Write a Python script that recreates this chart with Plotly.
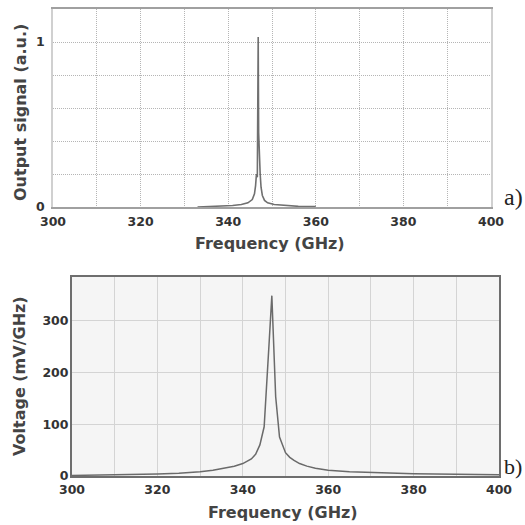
import plotly.graph_objects as go

# ---- data ----
freq_a = [333, 336, 339, 341, 343, 344.5, 345.5, 346.0, 346.25, 346.45, 346.65, 346.85,
          346.95, 347.1, 347.3, 347.5, 347.8, 348.3, 349, 350.5, 353, 356, 360]
signal_a = [0.0, 0.003, 0.006, 0.009, 0.015, 0.025, 0.045, 0.08, 0.13, 0.2, 0.18, 1.03,
            0.45, 0.24, 0.2, 0.12, 0.07, 0.04, 0.025, 0.015, 0.008, 0.004, 0.002]

freq_b = [300, 305, 310, 315, 320, 325, 330, 333, 336, 338, 340, 342, 343, 344, 345,
          345.6, 346.2, 346.8, 347.3, 347.7, 348.6, 350, 351, 352, 353.3, 355, 357,
          360, 365, 370, 375, 380, 385, 390, 395, 400]
voltage_b = [1, 1.5, 2, 3, 4, 5.5, 8, 11, 15, 19, 24, 33, 42, 60, 95,
             170, 262, 348, 250, 153, 75, 45, 36, 30, 24, 19, 15,
             11, 8, 6.5, 5.5, 4.5, 4, 3.5, 3, 2.5]

x_ticks = list(range(300, 401, 10))
x_labels = [str(v) if v % 20 == 0 else "" for v in x_ticks]
ya_ticks = [0, 0.2, 0.4, 0.6, 0.8, 1.0, 1.2]
ya_labels = ["0", "", "", "", "", "1", ""]
yb_ticks = [0, 100, 200, 300]

W = 525.0
def fx(px): return px / W
def fy(py): return 1 - py / W

tickfont = dict(family="DejaVu Sans", size=12.5, color="#333333", weight="bold")
titlefont = dict(family="DejaVu Sans", size=16, color="#444444", weight="bold")

fig = go.Figure()
fig.add_trace(go.Scatter(x=freq_a, y=signal_a, mode="lines",
                         line=dict(color="#707070", width=1.6), xaxis="x", yaxis="y",
                         showlegend=False))
fig.add_trace(go.Scatter(x=freq_b, y=voltage_b, mode="lines",
                         line=dict(color="#6a6a6a", width=1.5), xaxis="x2", yaxis="y2",
                         showlegend=False))

fig.update_layout(
    width=525, height=525,
    margin=dict(l=0, r=0, t=0, b=0),
    paper_bgcolor="white", plot_bgcolor="white",
    xaxis=dict(domain=[fx(53), fx(491)], anchor="y", range=[300, 400],
               tickmode="array", tickvals=x_ticks, ticktext=x_labels,
               showgrid=True, gridcolor="#b5b5b5", griddash="1px,1px", gridwidth=1,
               showline=True, linecolor="#a0a0a0", linewidth=2, mirror=True,
               ticks="", zeroline=False, tickfont=tickfont, automargin=False,
               ticklabelstandoff=2),
    yaxis=dict(domain=[fy(207), fy(9)], anchor="x", range=[0, 1.2],
               tickmode="array", tickvals=ya_ticks, ticktext=ya_labels,
               showgrid=True, gridcolor="#b5b5b5", griddash="1px,1px", gridwidth=1,
               showline=True, linecolor="#d0d0d0", linewidth=1.5, mirror=True,
               ticks="", zeroline=False, tickfont=tickfont, automargin=False,
               ticklabelstandoff=4),
    xaxis2=dict(domain=[fx(72), fx(499)], anchor="y2", range=[300, 400],
                tickmode="array", tickvals=x_ticks, ticktext=x_labels,
                showgrid=True, gridcolor="#d4d4d4", gridwidth=1,
                showline=True, linecolor="#6e6e6e", linewidth=2, mirror=True,
                ticks="", zeroline=False, tickfont=tickfont, automargin=False,
                ticklabelstandoff=1),
    yaxis2=dict(domain=[fy(476), fy(277)], anchor="x2", range=[0, 384],
                tickmode="array", tickvals=yb_ticks,
                showgrid=True, gridcolor="#d4d4d4", gridwidth=1,
                showline=True, linecolor="#6e6e6e", linewidth=2, mirror=True,
                ticks="", zeroline=False, tickfont=tickfont, automargin=False,
                ticklabelstandoff=-1),
    shapes=[dict(type="rect", xref="x2 domain", yref="y2 domain", x0=0, x1=1, y0=0, y1=1,
                 fillcolor="#f5f5f5", line=dict(width=0), layer="below")],
    annotations=[
        dict(text="Frequency (GHz)", xref="paper", yref="paper", x=fx(270), y=fy(244),
             showarrow=False, font=titlefont, xanchor="center", yanchor="middle"),
        dict(text="Output signal (a.u.)", xref="paper", yref="paper", x=fx(20), y=fy(113),
             showarrow=False, font=titlefont, textangle=-90, xanchor="center", yanchor="middle"),
        dict(text="Frequency (GHz)", xref="paper", yref="paper", x=fx(283), y=fy(512),
             showarrow=False, font=titlefont, xanchor="center", yanchor="middle"),
        dict(text="Voltage (mV/GHz)", xref="paper", yref="paper", x=fx(19), y=fy(376),
             showarrow=False, font=titlefont, textangle=-90, xanchor="center", yanchor="middle"),
        dict(text="a)", xref="paper", yref="paper", x=fx(502), y=fy(197),
             showarrow=False, font=dict(family="Liberation Serif", size=24, color="#222222"),
             xanchor="left", yanchor="middle"),
        dict(text="b)", xref="paper", yref="paper", x=fx(524), y=fy(466),
             showarrow=False, font=dict(family="Liberation Serif", size=22, color="#222222"),
             xanchor="right", yanchor="middle"),
    ],
)

fig.write_html("out.html",
               config={"displayModeBar": False},
               post_script="document.body.style.margin='0';document.body.style.overflow='hidden';")
